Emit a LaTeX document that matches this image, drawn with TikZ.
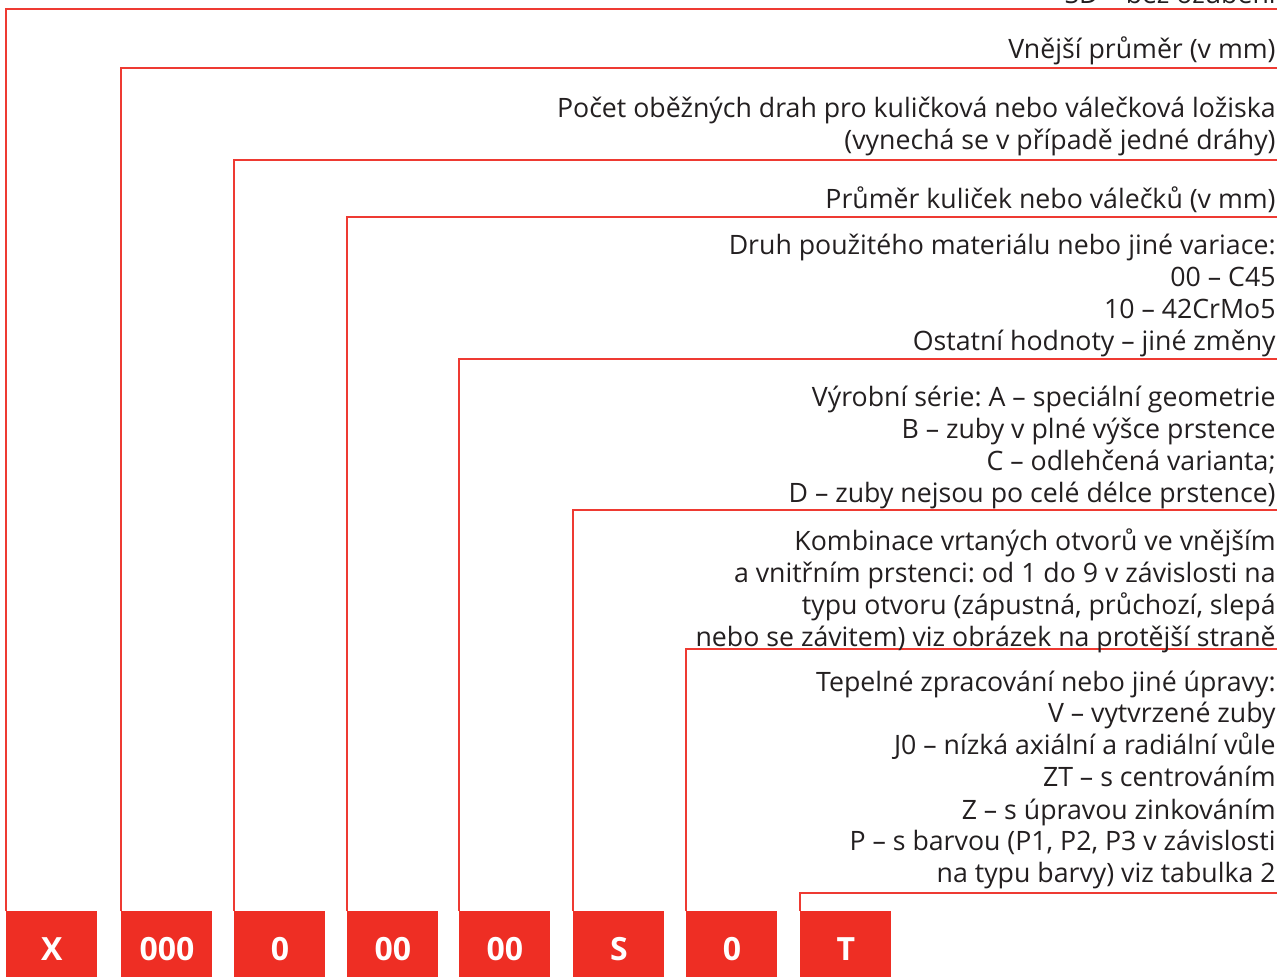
\documentclass[tikz,border=0pt]{standalone}
\usepackage{fontspec}
\setmainfont{Open Sans}
\frenchspacing
\definecolor{codered}{HTML}{EE2E24}
\definecolor{leadred}{HTML}{EE3A32}
\definecolor{inkgray}{HTML}{231F20}

\begin{document}
\begin{tikzpicture}[x=0.5pt,y=-0.5pt,
        codebox/.style={fill=codered, text=white, anchor=north west, inner sep=0pt,
            minimum width=45.5pt, minimum height=33pt, text height=16.4pt, text depth=0pt,
            font=\fontsize{16}{16}\selectfont\bfseries},
        lead/.style={draw=leadred, line width=0.6pt},
        desc/.style={anchor=base east, inner sep=0pt, align=right, text=inkgray,
            font=\fontsize{13.35}{16}\selectfont}]
        \useasboundingbox (0, 0) rectangle (1280, 977);
        
        \node[codebox] (A) at (6, 911) {X};
        \node[codebox] (B) at (121, 911) {000};
        \node[codebox] (C) at (234, 911) {0};
        \node[codebox] (D) at (347, 911) {00};
        \node[codebox] (E) at (459, 911) {00};
        \node[codebox] (F) at (573, 911) {S};
        \node[codebox] (G) at (686, 911) {0};
        \node[codebox] (H) at (800, 911) {T};
        
        \coordinate (a) at (1277, 9);
        \coordinate (b) at (1277, 68);
        \coordinate (c) at (1277, 160);
        \coordinate (d) at (1277, 217);
        \coordinate (e) at (1277, 359);
        \coordinate (f) at (1277, 510);
        \coordinate (g) at (1277, 649);
        \coordinate (h) at (1277, 893);
        
        \draw[lead] (A.north west) |- (a);
        \draw[lead] (B.north west) |- (b);
        \draw[lead] (C.north west) |- (c);
        \draw[lead] (D.north west) |- (d);
        \draw[lead] (E.north west) |- (e);
        \draw[lead] (F.north west) |- (f);
        \draw[lead] (G.north west) |- (g);
        \draw[lead] (H.north west) |- (h);
        
        \node[desc] (ta) at (1276, 4) {SD – bez ozubení};
        \node[desc] (tb) at (1276, 59) {Vnější průměr (v mm)};
        \node[desc] (tc) at (1276, 150) {Počet oběžných drah pro kuličková nebo válečková ložiska\\(vynechá se v případě jedné dráhy)};
        \node[desc] (td) at (1276, 209) {Průměr kuliček nebo válečků (v mm)};
        \node[desc] (te) at (1276, 351) {Druh použitého materiálu nebo jiné variace:\\00 – C45\\10 – 42CrMo5\\Ostatní hodnoty – jiné změny};
        \node[desc] (tf) at (1276, 503) {Výrobní série: A – speciální geometrie\\B – zuby v plné výšce prstence\\C – odlehčená varianta;\\D – zuby nejsou po celé délce prstence)};
        \node[desc] (tg) at (1276, 647) {Kombinace vrtaných otvorů ve vnějším\\a vnitřním prstenci: od 1 do 9 v závislosti na\\typu otvoru (zápustná, průchozí, slepá\\nebo se závitem) viz obrázek na protější straně};
        \node[desc] (th) at (1276, 883) {Tepelné zpracování nebo jiné úpravy:\\V – vytvrzené zuby\\J0 – nízká axiální a radiální vůle\\ZT – s centrováním\\Z – s úpravou zinkováním\\P – s barvou (P1, P2, P3 v závislosti\\na typu barvy) viz tabulka 2};
    \end{tikzpicture}
\end{document}
